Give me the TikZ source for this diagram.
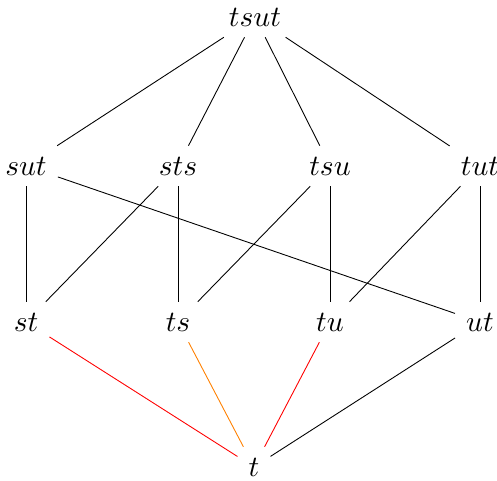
\documentclass[tikz,border=0pt]{standalone}
\begin{document}
\begin{tikzpicture}[x=0.339pt,y=-0.339pt,
  v/.style={inner sep=3.6pt},
  e/.style={draw=black,line width=0.3pt}]
\useasboundingbox (0,0) rectangle (497,481);
\node[v] (tsut) at (255,17) {$tsut$};
\node[v] (sut) at (26,166) {$sut$};
\node[v] (sts) at (178,166) {$sts$};
\node[v] (tsu) at (330,166) {$tsu$};
\node[v] (tut) at (480,166) {$tut$};
\node[v] (st) at (26,322) {$st$};
\node[v] (ts) at (178,322) {$ts$};
\node[v] (tu) at (330,322) {$tu$};
\node[v] (ut) at (480,322) {$ut$};
\node[v] (t) at (254,467) {$t$};
\draw[e] (tsut) -- (sut);
\draw[e] (tsut) -- (sts);
\draw[e] (tsut) -- (tsu);
\draw[e] (tsut) -- (tut);
\draw[e] (sut) -- (st);
\draw[e] (sut) -- (ut);
\draw[e] (sts) -- (st);
\draw[e] (sts) -- (ts);
\draw[e] (tsu) -- (ts);
\draw[e] (tsu) -- (tu);
\draw[e] (tut) -- (tu);
\draw[e] (tut) -- (ut);
\draw[e,draw=red] (st) -- (t);
\draw[e,draw=orange] (ts) -- (t);
\draw[e,draw=red] (tu) -- (t);
\draw[e] (ut) -- (t);
\end{tikzpicture}
\end{document}
